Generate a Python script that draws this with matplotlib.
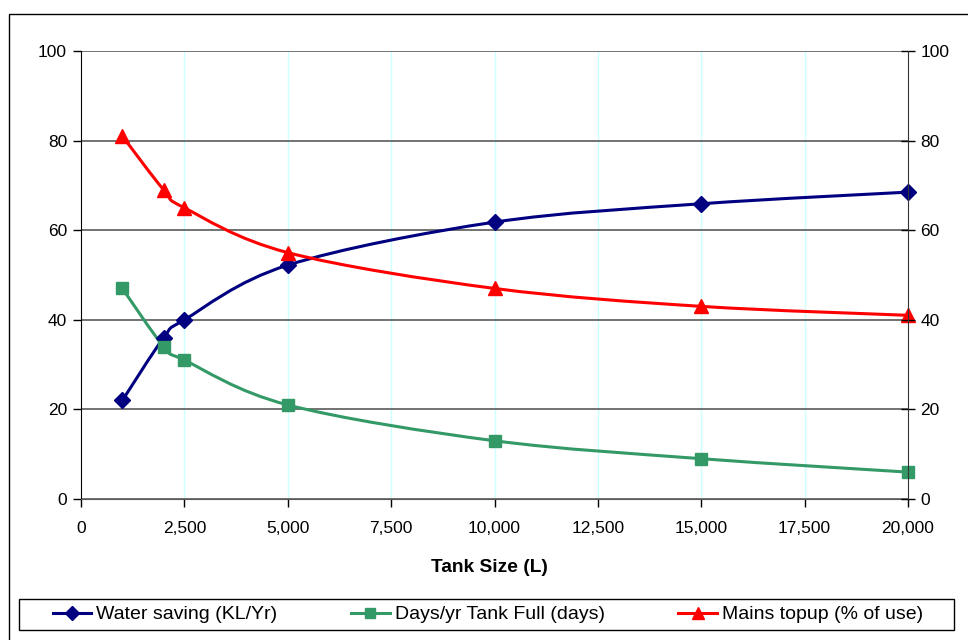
import matplotlib
matplotlib.use("Agg")
import matplotlib.pyplot as plt
from matplotlib.path import Path
from matplotlib.patches import PathPatch, Rectangle
from matplotlib.lines import Line2D
from matplotlib.ticker import FuncFormatter

plt.rcParams['font.family'] = ['Liberation Sans', 'DejaVu Sans']

tank_size = [1000, 2000, 2500, 5000, 10000, 15000, 20000]
water_saving = [22, 36, 40, 52.2, 61.8, 65.9, 68.5]
days_full = [47, 34, 31, 21, 13, 9, 6]
mains_topup = [81, 69, 65, 55, 47, 43, 41]

x_ticks = list(range(0, 20001, 2500))
y_ticks = list(range(0, 101, 20))

series = [
    ("Water saving (KL/Yr)", water_saving, "#000080", "D", 8.5),
    ("Days/yr Tank Full (days)", days_full, "#339966", "s", 8.5),
    ("Mains topup (% of use)", mains_topup, "#FF0000", "^", 10),
]


def smooth_path(xs, ys):
    """Cubic Bezier path through the points (cardinal spline, tension 1/6)."""
    pts = list(zip(xs, ys))
    n = len(pts)
    verts = [pts[0]]
    codes = [Path.MOVETO]
    for i in range(n - 1):
        p0 = pts[i - 1] if i > 0 else pts[i]
        p1 = pts[i]
        p2 = pts[i + 1]
        p3 = pts[i + 2] if i + 2 < n else pts[i + 1]
        c1 = (p1[0] + (p2[0] - p0[0]) / 6.0, p1[1] + (p2[1] - p0[1]) / 6.0)
        c2 = (p2[0] - (p3[0] - p1[0]) / 6.0, p2[1] - (p3[1] - p1[1]) / 6.0)
        verts += [c1, c2, p2]
        codes += [Path.CURVE4] * 3
    return Path(verts, codes)


fig = plt.figure(figsize=(9.68, 6.4), dpi=100)
W, H = 968, 640

# chart border
fig.patches.append(Rectangle((9 / W, -0.05), 1.1, (640 - 14) / H + 0.05,
                             transform=fig.transFigure, fill=False,
                             edgecolor="black", linewidth=1.0))

ax = fig.add_axes([81 / W, 1 - 499 / H, (908 - 81) / W, (499 - 51) / H])
ax.set_xlim(0, 20000)
ax.set_ylim(0, 100)

for v in x_ticks[1:-1]:
    ax.axvline(v, color="#CCFFFF", linewidth=1.0, zorder=0)
for v in y_ticks:
    ax.axhline(v, color="#5A5A5A", linewidth=1.2, zorder=1)

for label, vals, color, marker, ms in series:
    ax.add_patch(PathPatch(smooth_path(tank_size, vals), fill=False,
                           edgecolor=color, linewidth=2.2, zorder=3,
                           capstyle="round", joinstyle="round"))
    ax.plot(tank_size, vals, linestyle="none", marker=marker, markersize=ms,
            color=color, markeredgecolor=color, zorder=4, clip_on=False)

ax.set_xticks(x_ticks)
ax.xaxis.set_major_formatter(FuncFormatter(lambda v, p: f"{int(v):,}"))
ax.set_yticks(y_ticks)
ax.tick_params(axis="x", direction="out", length=6, width=1, labelsize=12.5, pad=10)
ax.tick_params(axis="y", direction="out", length=6, width=1, labelsize=12.5, pad=4)
ax.set_xlabel("Tank Size (L)", fontsize=13.8, fontweight="bold", labelpad=16)
ax.xaxis.set_label_coords((489 - 81) / (908 - 81), -0.135)

for s in ["top", "right"]:
    ax.spines[s].set_visible(False)
ax.spines["bottom"].set_color("#5A5A5A")
ax.spines["left"].set_color("black")

ax2 = ax.twinx()
ax2.set_ylim(0, 100)
ax2.set_yticks(y_ticks)
ax2.tick_params(axis="y", direction="inout", length=10, width=1, labelsize=12.5, pad=4)
for s in ["top", "left", "bottom"]:
    ax2.spines[s].set_visible(False)
ax2.spines["right"].set_color("#333333")

# legend box
fig.patches.append(Rectangle((19 / W, 1 - 630 / H), (954 - 19) / W, (630 - 599) / H,
                             transform=fig.transFigure, fill=False,
                             edgecolor="black", linewidth=1.0))

handles = [Line2D([], [], color=c, marker=m, markersize=ms * 0.85, linewidth=2.2,
                  markeredgecolor=c) for _, _, c, m, ms in series]
labels = [s[0] for s in series]
leg = fig.legend(handles, labels, loc="center", ncol=3,
                 bbox_to_anchor=(488 / W, 1 - 614.5 / H), fontsize=14,
                 frameon=False, handlelength=1.96, handletextpad=0.26,
                 columnspacing=3.8, borderpad=0.2)

fig.savefig("out.png", dpi=100)
